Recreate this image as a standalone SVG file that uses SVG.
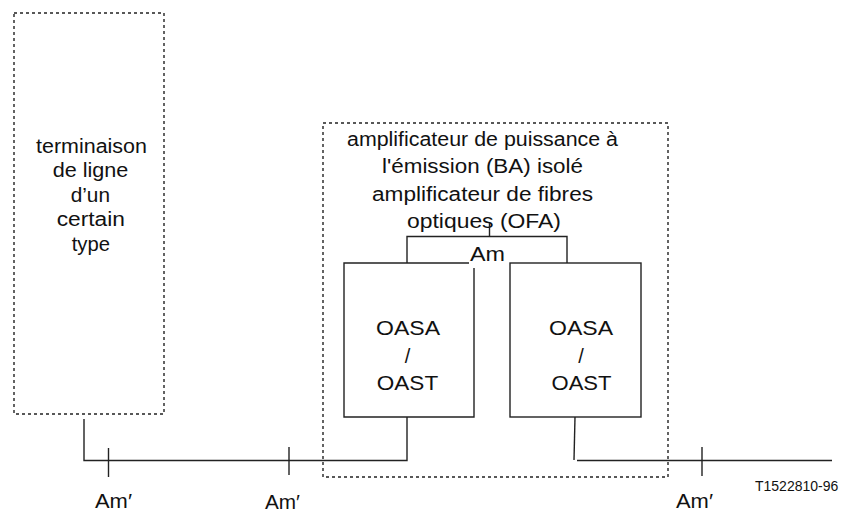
<svg xmlns="http://www.w3.org/2000/svg" width="851" height="513" viewBox="0 0 851 513">
<style>
text.t{font-family:'Liberation Sans',Arimo,Arial,sans-serif;font-size:20px;fill:#111;text-anchor:middle}
text.s{font-family:'Liberation Sans',Arimo,Arial,sans-serif;font-size:14px;fill:#111}
.dot{fill:none;stroke:#222;stroke-width:1.4;stroke-dasharray:3 3}
.ln{fill:none;stroke:#222;stroke-width:1.4}
</style>
<rect width="851" height="513" fill="#fff"/>
<g id="terminaison">
<rect class="dot" x="14" y="13" width="150" height="401"/>
<text class="t" x="91.5" y="153" textLength="111" lengthAdjust="spacingAndGlyphs">terminaison</text>
<text class="t" x="90.5" y="177.4" textLength="75.7" lengthAdjust="spacingAndGlyphs">de ligne</text>
<text class="t" x="90.3" y="201.8" textLength="39.3" lengthAdjust="spacingAndGlyphs">d’un</text>
<text class="t" x="90.8" y="226.2" textLength="68.3" lengthAdjust="spacingAndGlyphs">certain</text>
<text class="t" x="90.8" y="250.6" textLength="38.3" lengthAdjust="spacingAndGlyphs">type</text>
</g>
<g id="ba">
<rect class="dot" x="323" y="123" width="345" height="354"/>
<text class="t" x="482.5" y="146" textLength="271" lengthAdjust="spacingAndGlyphs">amplificateur de puissance à</text>
<text class="t" x="482.5" y="173.3" textLength="201" lengthAdjust="spacingAndGlyphs">l'émission (BA) isolé</text>
<text class="t" x="482.5" y="200.6" textLength="221" lengthAdjust="spacingAndGlyphs">amplificateur de fibres</text>
<text class="t" x="484" y="228" textLength="154" lengthAdjust="spacingAndGlyphs">optiques (OFA)</text>
</g>
<g id="oasa1">
<path class="ln" d="M469,263 H344 V417 H474 V268"/>
<text class="t" x="408" y="335" textLength="64" lengthAdjust="spacingAndGlyphs">OASA</text>
<text class="t" x="407.5" y="362.5">/</text>
<text class="t" x="407.5" y="390" textLength="61.3" lengthAdjust="spacingAndGlyphs">OAST</text>
</g>
<g id="oasa2">
<rect class="ln" x="510" y="263" width="131" height="154"/>
<text class="t" x="581" y="335" textLength="64" lengthAdjust="spacingAndGlyphs">OASA</text>
<text class="t" x="581" y="362.5">/</text>
<text class="t" x="581.5" y="390" textLength="60" lengthAdjust="spacingAndGlyphs">OAST</text>
</g>
<g id="connectors">
<path class="ln" d="M407,263 V236.5 H567 V263"/>
<path class="ln" d="M489.5,223 V236.5"/>
<path class="ln" d="M84,419 V460.5 H407 V417"/>
<path class="ln" d="M575,417 L574,460"/>
<path class="ln" d="M577,460.5 H832"/>
<path class="ln" d="M108.5,448 V477"/>
<path class="ln" d="M289,447 V475"/>
<path class="ln" d="M702,447 V476"/>
</g>
<g id="labels">
<text class="t" x="113.5" y="508" textLength="37" lengthAdjust="spacingAndGlyphs">Am′</text>
<text class="t" x="282.5" y="509" textLength="35" lengthAdjust="spacingAndGlyphs">Am′</text>
<text class="t" x="694.5" y="508" textLength="37" lengthAdjust="spacingAndGlyphs">Am′</text>
<text class="t" x="487.5" y="261" textLength="35" lengthAdjust="spacingAndGlyphs">Am</text>
<text class="s" x="755" y="491">T1522810-96</text>
</g>
</svg>
